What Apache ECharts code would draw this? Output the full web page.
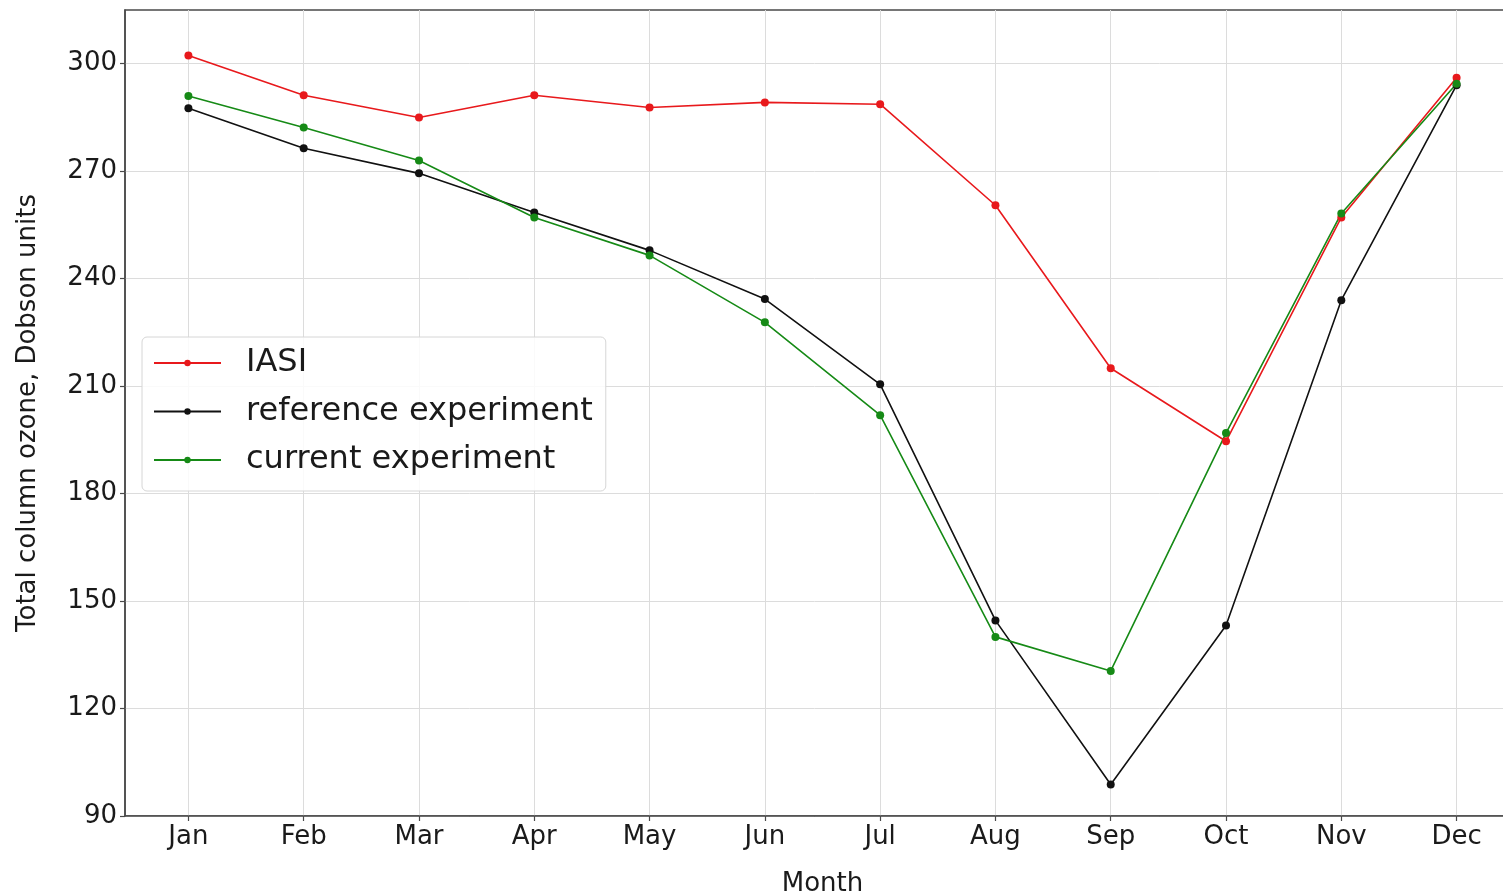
<!DOCTYPE html>
<html>
<head>
<meta charset="utf-8">
<title>Total column ozone by month</title>
<script src="https://cdn.jsdelivr.net/npm/echarts@6/dist/echarts.min.js"></script>
<style>
  html, body { margin: 0; padding: 0; background: #ffffff; overflow: hidden; }
  #chart { width: 1503px; height: 896px; }
</style>
</head>
<body>
<div id="chart"></div>
<script>
// Month labels along the x axis (positions 0..11)
const months = ['Jan', 'Feb', 'Mar', 'Apr', 'May', 'Jun', 'Jul', 'Aug', 'Sep', 'Oct', 'Nov', 'Dec'];

// Total column ozone, Dobson units
const iasi = [302.3, 291.2, 285.0, 291.2, 287.8, 289.2, 288.7, 260.5, 215.0, 194.6, 257.1, 296.1];
const referenceExperiment = [287.6, 276.4, 269.4, 258.5, 247.9, 234.3, 210.5, 144.6, 98.8, 143.2, 234.0, 294.0];
const currentExperiment = [291.0, 282.2, 273.0, 257.1, 246.5, 227.8, 201.9, 140.0, 130.5, 196.9, 258.2, 294.4];

// Y tick values
const yTicks = [90, 120, 150, 180, 210, 240, 270, 300];

const FONT = 'DejaVu Sans';
const monthIdx = months.map((m, i) => i);
const pairs = arr => arr.map((v, i) => [i, v]);

const chart = echarts.init(document.getElementById('chart'), null, { renderer: 'canvas' });

const gridLine = { show: true, lineStyle: { color: '#dcdcdc', width: 1 } };
const axisLine = { show: true, onZero: false, lineStyle: { color: '#4a4a4a', width: 1.5 } };
const axisTick = { show: true, length: 5, lineStyle: { color: '#4a4a4a', width: 1.2 } };

function lineSeries(name, data, color) {
  return {
    name: name,
    type: 'line',
    data: pairs(data),
    symbol: 'circle',
    symbolSize: 8,
    showSymbol: true,
    lineStyle: { color: color, width: 1.6 },
    itemStyle: { color: color },
    emphasis: { disabled: true },
    animation: false
  };
}

chart.setOption({
  backgroundColor: '#ffffff',
  animation: false,
  grid: {
    // the plot frame runs past the right edge of the canvas
    left: 125,
    top: 10,
    width: 1395,
    bottom: 80,
    outerBoundsMode: 'none',
    containLabel: false,
    show: true,
    borderColor: '#4a4a4a',
    borderWidth: 1.5,
    backgroundColor: 'transparent'
  },
  legend: {
    orient: 'vertical',
    left: 142,
    top: 337,
    padding: [10, 13, 15, 11],
    itemGap: 16.5,
    itemWidth: 67,
    itemHeight: 8,
    backgroundColor: 'rgba(255,255,255,0.85)',
    borderColor: '#d6d6d6',
    borderWidth: 1,
    borderRadius: 5,
    textStyle: { fontFamily: FONT, fontSize: 32, color: '#1a1a1a', lineHeight: 32, padding: [0, 0, 0, 20] },
    data: ['IASI', 'reference experiment', 'current experiment']
  },
  xAxis: {
    type: 'value',
    min: -0.55,
    max: 11.55,
    name: 'Month',
    nameLocation: 'middle',
    nameGap: 55,
    nameTextStyle: { fontFamily: FONT, fontSize: 26, color: '#1a1a1a' },
    axisLine: axisLine,
    axisTick: Object.assign({ customValues: monthIdx }, axisTick),
    splitLine: gridLine,
    axisLabel: {
      customValues: monthIdx,
      fontFamily: FONT,
      fontSize: 26,
      color: '#1a1a1a',
      margin: 8,
      formatter: v => months[Math.round(v)]
    }
  },
  yAxis: {
    type: 'value',
    min: 90,
    max: 315,
    name: 'Total column ozone, Dobson units',
    nameLocation: 'middle',
    nameRotate: 90,
    nameGap: 84,
    nameTextStyle: { fontFamily: FONT, fontSize: 26, color: '#1a1a1a' },
    axisLine: axisLine,
    axisTick: Object.assign({ customValues: yTicks }, axisTick),
    splitLine: gridLine,
    axisLabel: {
      customValues: yTicks,
      fontFamily: FONT,
      fontSize: 26,
      color: '#1a1a1a',
      margin: 8
    }
  },
  series: [
    lineSeries('IASI', iasi, '#e8191c'),
    lineSeries('reference experiment', referenceExperiment, '#111111'),
    lineSeries('current experiment', currentExperiment, '#168a16')
  ]
});
</script>
</body>
</html>
